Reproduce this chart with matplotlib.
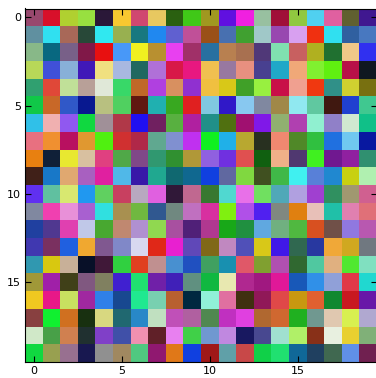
import numpy as np
import matplotlib
matplotlib.use("Agg")
import matplotlib.pyplot as plt
from matplotlib.colors import to_rgb

row00 = ["#98486e","#d8102a","#b0d030","#98e040","#2a1838","#f8c830","#d04870","#e8c860","#2a6010","#40c818","#a09820","#6010e0","#f020e0","#98c0a0","#a01038","#90c840","#50d0f0","#e060a0","#606030","#401890"]
row01 = ["#6090a0","#30e0f0","#a86858","#284838","#30e8f0","#98b050","#187880","#2088f0","#6060d0","#c05098","#9a5018","#4870b0","#40a030","#a0c8c8","#9848b0","#d8a0f0","#f03010","#30e0f0","#3060a0","#4878c0"]
row02 = ["#88b888","#086880","#786088","#801848","#e81010","#4898f8","#f0f020","#b89030","#e840f0","#a03068","#2870a0","#b88050","#a87050","#503878","#80e0b0","#c86060","#b0b020","#207030","#f0c888","#3030f0"]
row03 = ["#b8d858","#4050d8","#88b0d8","#4018b8","#f0e080","#a8b8e0","#206860","#b070d8","#d81848","#e81880","#f0c050","#9878a0","#e89080","#484090","#20a8c8","#f0a878","#80f030","#60f010","#b81048","#101820"]
row04 = ["#30a070","#e04838","#c0e098","#b8a098","#e0e8d8","#38d868","#c06828","#b040e0","#d89060","#9030d0","#f0c040","#d8c818","#40a028","#98f040","#c81048","#f0a090","#f03810","#309088","#d0d030","#787010"]
row05 = ["#10c848","#c86828","#3058c8","#081890","#b8c080","#50d060","#601810","#20b0b0","#38a820","#e02020","#80c8e0","#3018c8","#88c8f0","#8088a0","#a08848","#90e8f0","#60c8a0","#401810","#2040d0","#40c890"]
row06 = ["#30c0e8","#f0b0b0","#9058f0","#10d840","#a09098","#b03848","#2010f0","#702060","#58b040","#b020a0","#209088","#507010","#a01070","#8018e8","#90b070","#b040b0","#90f0d0","#9080c8","#d0e8d0","#10c088"]
row07 = ["#e87080","#f09030","#b81060","#e09830","#50f010","#d03030","#b02848","#60a890","#8090d0","#c030f0","#10f020","#20b0e8","#b8a830","#283020","#f08870","#508828","#30c040","#2070e0","#70c8f0","#0818a0"]
row08 = ["#e88010","#102038","#e8e830","#d8c0a0","#e04080","#50a848","#804888","#309870","#309030","#b09838","#9060e0","#7030e0","#e05050","#106010","#f0b088","#503870","#40f020","#701890","#9020a0","#309070"]
row09 = ["#402018","#1878c8","#e0a870","#a860c0","#e020a0","#50b8e8","#3818a8","#20a890","#106870","#106890","#1040e0","#6068a0","#80d840","#405020","#40b848","#40f0f0","#5880d8","#2088d0","#c8d010","#b0f0b0"]
row10 = ["#6030f0","#60c0a0","#d8e870","#2098f0","#60d060","#c84060","#b8a8c0","#e060e0","#301838","#c06890","#387830","#50d8d0","#e870e8","#70e060","#50a8b8","#b0a0e0","#a040d0","#309060","#a09870","#d06090"]
row11 = ["#8088a0","#f040b0","#e890d8","#a860d0","#30e0e0","#a89050","#70b840","#305890","#708880","#c070c0","#d830a0","#80f010","#b050e8","#5020f0","#808880","#e08010","#e8c0b8","#20c0a8","#e080b0","#e07078"]
row12 = ["#2040a0","#503890","#e040b0","#c0c8e8","#48a830","#c08870","#b090d0","#90d850","#a850a0","#502078","#b03890","#18a818","#209040","#60a8e0","#70b080","#50b840","#d85020","#705048","#9078e0","#b858b0"]
row13 = ["#4038b0","#7a3060","#2060e0","#f0a830","#805890","#8088c8","#d8d8f0","#e02818","#e820d0","#6048b8","#806818","#c088c0","#5050b8","#d8c818","#4018e8","#306850","#2838a0","#f0a838","#d0a820","#707880"]
row14 = ["#3098b0","#d8c810","#c8b098","#081028","#401838","#30d040","#e04020","#c09090","#4890d0","#2050c0","#40a060","#1890b0","#e05868","#80a030","#b050b0","#306830","#50c8a0","#e0b080","#50e830","#80e0c0"]
row15 = ["#a09838","#a020a8","#404018","#805880","#808060","#4020d0","#20e070","#7020a8","#4020b8","#609080","#10b840","#e8e8b0","#b02890","#a01880","#e01898","#1858b8","#3090e8","#90a0d8","#e03848","#20d8d0"]
row16 = ["#f0c820","#e81888","#c8e060","#a028a0","#3080e8","#184890","#20e890","#78d0b0","#b86030","#002840","#90f0d8","#e070a0","#403010","#901858","#e04848","#c89810","#e06030","#108830","#c81820","#6818a8"]
row17 = ["#884040","#10f030","#d07020","#183010","#d8d880","#206870","#2888c8","#c0e0c0","#c050b8","#b060a0","#508850","#c030c0","#e040e0","#b06830","#d06830","#20b020","#709890","#e0c8b0","#d8f050","#b0a8d0"]
row18 = ["#d0e8c8","#48a048","#d08050","#203030","#8040c8","#4050a8","#f090b0","#602028","#e880f0","#40d048","#7098d0","#c088e0","#181860","#484890","#a0e0d0","#b0f068","#883018","#e8f0e0","#e8d030","#80b078"]
row19 = ["#10d840","#98a050","#987090","#181850","#909090","#a08860","#50c880","#901870","#e07818","#1040e0","#a01818","#60a0a8","#c84848","#10d048","#20e070","#106898","#204060","#406850","#6090e8","#702050"]

rows = [row00, row01, row02, row03, row04, row05, row06, row07, row08, row09,
        row10, row11, row12, row13, row14, row15, row16, row17, row18, row19]
xticks = [0, 5, 10, 15]
yticks = [0, 5, 10, 15]

img = np.array([[to_rgb(c) for c in r] for r in rows])

fig = plt.figure(figsize=(3.76, 3.78), dpi=100)
ax = fig.add_axes([25/376, 16/378, 352/376, 353.5/378])
ax.imshow(img, interpolation="nearest", aspect="auto")
ax.set_xticks(xticks)
ax.set_yticks(yticks)
ax.tick_params(direction="in", top=True, right=True, length=4, width=0.8,
               labelsize=8, pad=3)
for s in ax.spines.values():
    s.set_linewidth(0.8)
fig.savefig("out.png", dpi=100)
